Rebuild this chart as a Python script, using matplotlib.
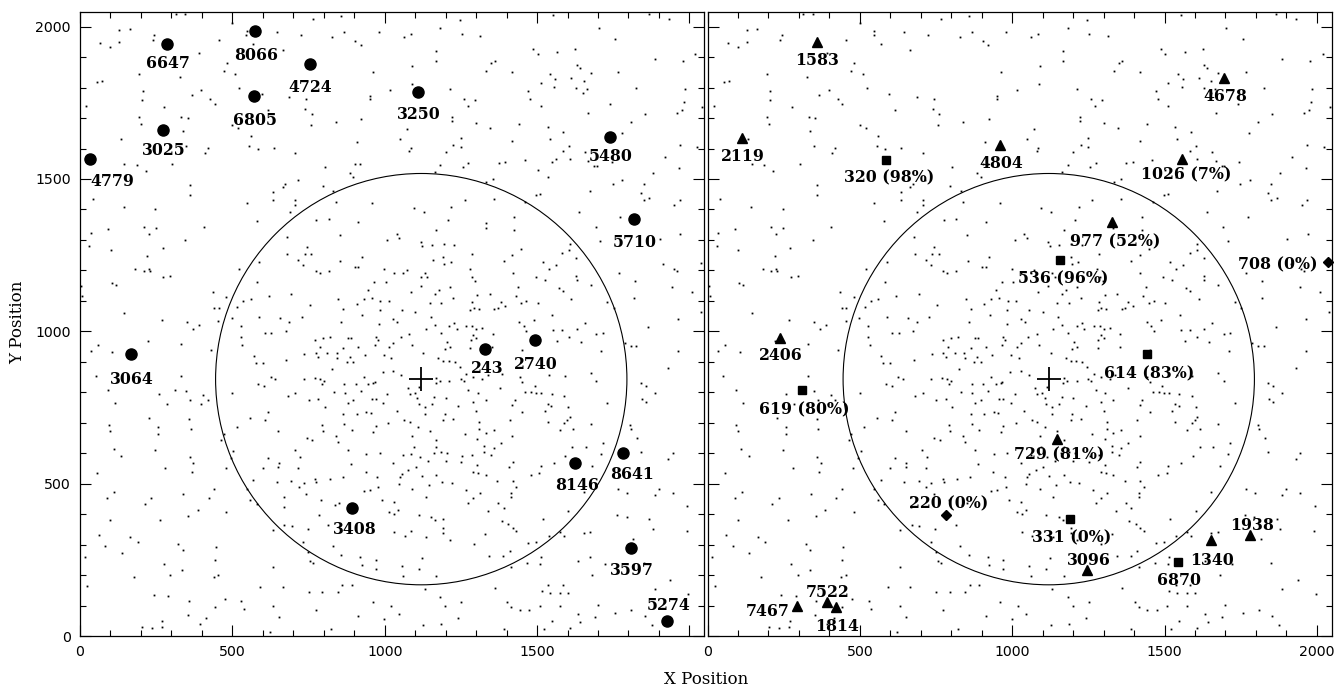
import matplotlib
matplotlib.use('Agg')
import matplotlib.pyplot as plt
from matplotlib.patches import Circle
from matplotlib.ticker import MultipleLocator, FuncFormatter

# field stars, same frame shown in both panels
field_stars = [
    (315, 2043), (345, 2041), (500, 2013), (128, 1989), (164, 1991), (66, 1947), (99, 1934), (128, 1948),
    (244, 1974), (239, 1956), (456, 1955), (547, 1985), (545, 1971), (569, 1943), (645, 1981), (725, 1974),
    (765, 2025), (828, 1967), (857, 2036), (867, 1983), (665, 1923), (391, 1912), (481, 1881), (472, 1855),
    (509, 1846), (194, 1846), (328, 1835), (55, 1819), (71, 1821), (206, 1788), (205, 1758), (366, 1776),
    (398, 1792), (427, 1763), (442, 1747), (522, 1798), (596, 1778), (687, 1769), (742, 1762), (740, 1731),
    (760, 1713), (757, 1677), (839, 1688), (20, 1741), (276, 1737), (195, 1702), (201, 1682), (332, 1703),
    (353, 1699), (500, 1677), (519, 1668), (616, 1726), (134, 1631), (338, 1657), (560, 1641), (555, 1609),
    (583, 1597), (636, 1603), (707, 1584), (349, 1609), (420, 1601), (409, 1586), (804, 1538), (145, 1549),
    (187, 1547), (215, 1526), (302, 1549), (360, 1481), (360, 1447), (548, 1421), (634, 1457), (634, 1430),
    (666, 1473), (673, 1484), (714, 1495), (797, 1477), (831, 1461), (706, 1430), (706, 1416), (688, 1390),
    (839, 1425), (42, 1433), (143, 1407), (247, 1400), (775, 1365), (817, 1369), (580, 1362),
    (1553, 2039), (1867, 2043), (1933, 2024), (904, 1954), (921, 1940), (981, 1984), (1063, 1967), (1085, 1977),
    (1183, 1997), (1246, 2021), (1253, 1977), (1313, 1970), (1702, 1996), (1756, 1960), (1167, 1920), (1168, 1888),
    (1091, 1871), (962, 1850), (1089, 1813), (1016, 1792), (951, 1772), (951, 1761), (1214, 1796), (1259, 1761),
    (1272, 1738), (1296, 1760), (1221, 1702), (1221, 1691), (1300, 1685), (923, 1698), (1073, 1664), (1050, 1631),
    (1086, 1602), (1081, 1592), (910, 1622), (904, 1549), (919, 1549), (886, 1518), (897, 1507), (1334, 1855),
    (1350, 1881), (1362, 1888), (1418, 1850), (1487, 1925), (1503, 1911), (1567, 1917), (1626, 1926), (1631, 1874),
    (1640, 1863), (1677, 1849), (1767, 1850), (1887, 1893), (1978, 1887), (2019, 1910), (1544, 1844), (1560, 1828),
    (1513, 1816), (1471, 1789), (1478, 1762), (1556, 1803), (1612, 1833), (1654, 1822), (1629, 1797), (1664, 1796),
    (1652, 1783), (1825, 1799), (1985, 1794), (1981, 1753), (1975, 1726), (1959, 1717), (2043, 1735), (1854, 1712),
    (1741, 1746), (1668, 1717), (1512, 1740), (1441, 1680), (1347, 1667), (1419, 1623), (1535, 1672), (1586, 1653),
    (1542, 1632), (1604, 1607), (1584, 1593), (1561, 1566), (1549, 1555), (1607, 1567), (1656, 1589), (1668, 1558),
    (1687, 1542), (1696, 1543), (1746, 1557), (1778, 1652), (1807, 1687), (1969, 1611), (2025, 1606), (1919, 1571),
    (1965, 1536), (1880, 1518), (1850, 1485), (1780, 1495), (1748, 1482), (1673, 1461), (1840, 1455), (1851, 1430),
    (1869, 1439), (1969, 1430), (1950, 1415), (1503, 1530), (1537, 1507), (1459, 1562), (1396, 1556), (1374, 1551),
    (1274, 1553), (1257, 1538), (1249, 1635), (1249, 1606), (1225, 1613), (1201, 1588), (1182, 1547), (1165, 1522),
    (1334, 1491), (1357, 1500), (1497, 1448), (1511, 1451), (1461, 1425), (1358, 1433), (1262, 1430), (1218, 1409),
    (1128, 1392), (1095, 1404), (959, 1422), (913, 1360), (1207, 1365), (1332, 1356), (1425, 1376), (1638, 1392),
    (1773, 1376),
    (36, 1323), (91, 1335), (31, 1281), (101, 1267), (209, 1341), (225, 1319), (248, 1338), (406, 1341),
    (345, 1299), (271, 1273), (220, 1247), (181, 1203), (210, 1199), (225, 1206), (229, 1197), (274, 1179),
    (297, 1181), (104, 1159), (118, 1153), (4, 1149), (8, 1116), (145, 1060), (268, 1037), (350, 1029),
    (370, 1008), (389, 1020), (435, 1129), (441, 1077), (455, 1077), (453, 1035), (480, 1113), (521, 1205),
    (589, 1227), (582, 1163), (516, 1081), (535, 1100), (561, 1107), (498, 1044), (619, 1116), (589, 1046),
    (528, 1017), (528, 980), (532, 954), (607, 995), (628, 993), (657, 1043), (686, 1029), (676, 1002),
    (727, 1047), (693, 1124), (678, 1311), (680, 1255), (717, 1235), (732, 1218), (737, 1255), (745, 1277),
    (759, 1255), (774, 1197), (787, 1190), (816, 1199), (853, 1315), (854, 1232), (847, 1107), (754, 1086),
    (864, 1072), (857, 1030), (821, 982), (799, 977), (772, 973), (789, 949), (773, 928), (736, 926),
    (782, 916), (811, 930), (843, 930), (845, 914), (864, 944), (878, 977), (875, 898), (677, 906),
    (570, 919), (577, 895), (600, 895), (429, 939), (330, 960), (223, 968), (58, 954), (35, 934),
    (106, 933), (51, 852), (93, 806), (115, 764), (94, 693), (99, 674), (228, 715), (256, 685),
    (256, 664), (258, 795), (285, 761), (312, 808), (330, 852), (348, 805), (362, 773), (359, 711),
    (363, 679), (405, 792), (397, 760), (420, 773), (499, 796), (514, 687), (472, 662), (464, 643),
    (585, 826), (605, 821), (626, 850), (640, 845), (557, 716), (606, 709), (617, 734), (650, 674),
    (682, 788), (706, 798), (734, 843), (770, 848), (750, 773), (782, 778), (803, 752), (787, 842),
    (800, 836), (793, 828), (827, 877), (833, 802), (867, 827), (869, 798), (879, 766), (864, 728),
    (867, 695), (794, 692), (796, 674), (744, 650), (762, 644), (840, 656), (846, 637),
    (1332, 1338), (1170, 1334), (1425, 1332), (1692, 1343), (1009, 1299), (1040, 1321), (1048, 1305), (1118, 1294),
    (1124, 1280), (1154, 1282), (1194, 1288), (1228, 1284), (924, 1245), (902, 1212), (913, 1212), (998, 1203),
    (1030, 1190), (1061, 1190), (1072, 1201), (1118, 1179), (1132, 1192), (1139, 1177), (1159, 1234), (1192, 1245),
    (1216, 1226), (1195, 1221), (1285, 1253), (1279, 1203), (1288, 1177), (1297, 1165), (1391, 1232), (1419, 1252),
    (1449, 1270), (1420, 1192), (1495, 1177), (1518, 1226), (1539, 1204), (1561, 1217), (1582, 1256), (1606, 1267),
    (1607, 1288), (1629, 1242), (1629, 1181), (1631, 1168), (1676, 1152), (1572, 1142), (1585, 1133), (1525, 1167),
    (1438, 1146), (1430, 1116), (1449, 1094), (1465, 1099), (1503, 1094), (1550, 1053), (1612, 1105), (1657, 1026),
    (1630, 1006), (1605, 982), (1567, 969), (1582, 1004), (1553, 1004), (1695, 991), (1716, 993), (1645, 966),
    (1711, 935), (1731, 1097), (1751, 1078), (1769, 1190), (1821, 1165), (1819, 1110), (1915, 1221), (1948, 1205),
    (1959, 1197), (1944, 1146), (2009, 1130), (2039, 1064), (2037, 1225), (1970, 1319), (1902, 1303), (1708, 1297),
    (1865, 1013), (1963, 1040), (1963, 936), (1807, 953), (1825, 953), (1788, 962), (1930, 879), (1840, 829),
    (1856, 820), (1886, 798), (1843, 778), (1857, 769), (1731, 764), (1676, 864), (1695, 837), (1806, 692),
    (1810, 678), (1829, 651), (1716, 634), (1676, 697), (1607, 720), (1599, 709), (1590, 700), (1618, 681),
    (1574, 676), (1535, 701), (1525, 739), (1546, 756), (1535, 763), (1603, 750), (1589, 788), (1549, 795),
    (1514, 796), (1498, 798), (1481, 802), (1462, 802), (1492, 821), (1452, 834), (1444, 851), (1540, 858),
    (1591, 853), (1452, 938), (1441, 1031), (1456, 1017), (1465, 1001), (1490, 1037), (1354, 991), (1353, 949),
    (1339, 858), (1321, 845), (1385, 860), (1379, 813), (1332, 774), (1301, 739), (1290, 769), (1305, 796),
    (1275, 807), (1311, 701), (1311, 681), (1331, 665), (1358, 676), (1381, 634), (1410, 709), (1418, 656),
    (1427, 774), (1419, 758), (1452, 734), (1285, 1097), (1293, 1078), (1281, 1070), (1308, 1072), (1359, 1072),
    (1371, 1078), (1381, 1095), (1396, 1084), (1303, 1119), (1345, 1121), (1225, 1109), (1186, 1092), (1148, 1094),
    (1165, 1122), (1177, 1137), (1214, 1144), (1119, 1149), (1085, 1128), (1014, 1098), (986, 1098), (957, 1108),
    (946, 1135), (966, 1161), (1003, 1163), (932, 1107), (908, 1091), (927, 1053), (984, 1070), (1056, 1070),
    (1100, 1064), (1151, 1046), (1028, 1039), (1041, 1031), (982, 1025), (1135, 1006), (1165, 1021), (1184, 995),
    (1212, 1018), (1228, 1026), (1236, 1008), (1268, 1017), (1287, 1019), (1301, 1008), (1321, 1012), (1290, 988),
    (1283, 971), (1301, 977), (1203, 966), (1214, 949), (1197, 941), (1281, 945), (1175, 914), (1192, 901),
    (1210, 903), (1230, 900), (1246, 884), (1089, 955), (1080, 991), (1126, 930), (1052, 980), (1028, 962),
    (1015, 949), (997, 923), (1022, 912), (971, 982), (978, 971), (968, 956), (935, 922), (913, 949),
    (889, 977), (886, 916), (897, 900), (932, 851), (946, 826), (962, 829), (968, 834), (905, 827),
    (922, 805), (897, 774), (957, 778), (971, 778), (995, 766), (1008, 794), (993, 867), (1028, 869),
    (1055, 856), (1076, 813), (1083, 794), (1098, 798), (1113, 816), (1107, 780), (1111, 760), (1132, 752),
    (1154, 763), (1170, 846), (1168, 829), (1162, 785), (1181, 837), (1201, 780), (1212, 836), (1241, 756),
    (1249, 845), (1260, 838), (1268, 860), (1290, 851), (1192, 709), (1225, 711), (1197, 730), (1108, 687),
    (1148, 674), (1170, 643), (1132, 728), (1091, 656), (1064, 709), (1083, 703), (1039, 739), (1011, 698),
    (962, 668), (971, 689), (940, 736), (955, 733), (908, 727), (892, 676), (1263, 662), (1303, 648),
    (110, 613), (136, 592), (247, 609), (360, 586), (371, 568), (366, 537), (280, 553), (56, 535),
    (113, 471), (89, 452), (100, 382), (234, 454), (212, 432), (264, 380), (339, 466), (356, 394),
    (386, 414), (422, 452), (441, 483), (480, 407), (479, 552), (495, 585), (503, 607), (62, 331),
    (83, 297), (137, 274), (165, 326), (190, 310), (16, 260), (24, 164), (176, 194), (242, 136),
    (290, 131), (275, 235), (297, 199), (322, 302), (338, 282), (336, 215), (357, 114), (354, 68),
    (393, 40), (415, 59), (443, 96), (475, 122), (439, 193), (454, 200), (443, 248), (446, 292),
    (203, 31), (235, 25), (269, 29), (270, 49), (529, 114), (537, 88), (592, 162), (623, 14),
    (633, 99), (652, 64), (666, 162), (632, 226), (632, 347), (670, 363), (695, 361), (668, 422),
    (669, 455), (646, 504), (652, 569), (650, 555), (616, 585), (599, 553), (569, 512), (547, 481),
    (558, 446), (580, 432), (694, 508), (718, 490), (735, 503), (717, 553), (721, 589), (705, 611),
    (742, 465), (772, 516), (775, 505), (792, 445), (784, 398), (820, 515), (836, 430), (851, 438),
    (862, 522), (879, 610), (747, 352), (814, 363), (829, 294), (733, 310), (749, 276), (756, 247),
    (765, 238), (858, 267), (861, 169), (846, 145), (795, 145), (751, 144), (774, 86), (823, 24),
    (940, 596), (984, 599), (1061, 595), (1087, 597), (1096, 619), (1115, 586), (1170, 621), (1161, 601),
    (1186, 605), (1205, 601), (1142, 575), (1028, 569), (938, 538), (888, 563), (975, 523), (979, 488),
    (951, 479), (932, 477), (1050, 523), (1056, 531), (1078, 545), (1102, 555), (1121, 525), (1091, 484),
    (1046, 500), (1144, 494), (1170, 528), (1189, 506), (1220, 501), (1201, 575), (1255, 590), (1285, 594),
    (1251, 571), (1327, 623), (1326, 605), (1350, 594), (1358, 616), (1303, 561), (1290, 538), (1307, 534),
    (1331, 528), (1408, 555), (1421, 572), (1421, 510), (1432, 490), (1415, 470), (1415, 457), (1369, 510),
    (1373, 438), (1391, 419), (1340, 410), (1312, 468), (1290, 454), (1274, 435), (1266, 479), (1135, 457),
    (1111, 397), (1152, 391), (1166, 380), (1192, 384), (1192, 353), (1193, 339), (1135, 324), (1086, 345),
    (1066, 329), (1031, 341), (1029, 439), (1031, 402), (1045, 415), (1015, 408), (990, 446), (1214, 315),
    (1292, 301), (1328, 336), (1343, 262), (1389, 262), (1410, 279), (1416, 227), (1385, 378), (1406, 369),
    (1421, 353), (1432, 344), (1471, 304), (1498, 309), (1468, 238), (1514, 260), (1510, 236), (1518, 384),
    (1539, 328), (1574, 342), (1587, 328), (1602, 411), (1654, 337), (1675, 341), (1633, 247), (1675, 260),
    (1681, 200), (1700, 101), (1513, 559), (1507, 534), (1479, 530), (1555, 569), (1592, 590), (1616, 619),
    (1660, 619), (1681, 559), (1709, 597), (1654, 471), (1767, 484), (1796, 470), (1763, 397), (1795, 391),
    (1815, 317), (1840, 603), (1946, 599), (1931, 580), (1900, 481), (1886, 462), (1946, 470), (1993, 426),
    (1869, 384), (1880, 350), (1991, 345), (1850, 240), (1722, 235), (1938, 184), (1886, 153), (1997, 138),
    (1854, 66), (1876, 36), (1809, 85), (1757, 74), (1689, 61), (1634, 72), (1642, 47), (1607, 25),
    (1549, 49), (1574, 98), (1522, 22), (1509, 97), (1391, 22), (1443, 85), (1474, 85), (1402, 110),
    (1416, 94), (1361, 156), (1516, 148), (1536, 167), (1542, 140), (1574, 140), (1585, 167), (1601, 140),
    (1252, 112), (1242, 58), (1198, 99), (1185, 39), (1182, 129), (1126, 35), (1132, 153), (1046, 71),
    (998, 55), (1020, 98), (960, 110), (913, 66), (892, 169), (1170, 197), (1056, 229), (1061, 197),
    (1111, 220), (1124, 255), (971, 249), (971, 219), (919, 258), (924, 234),
]

# cluster centre and radius
centre_x, centre_y = 1120, 843
radius = 675

# left panel: candidates
left_ids = ['6647', '8066', '4724', '6805', '3025', '4779', '3250', '5480', '5710',
            '3064', '243', '2740', '8146', '8641', '3408', '3597', '5274']
left_x = [287, 574, 754, 571, 273, 33, 1108, 1740, 1818, 169, 1328, 1494, 1625, 1783, 894, 1809, 1928]
left_y = [1944, 1986, 1877, 1772, 1662, 1565, 1784, 1637, 1369, 926, 941, 971, 567, 601, 420, 289, 48]

# right panel: triangles, squares, diamonds
tri_ids = ['1583', '2119', '4804', '4678', '1026 (7%)', '977 (52%)', '2406', '729 (81%)',
           '3096', '1340', '1938', '7467', '7522', '1814']
tri_x = [358, 112, 960, 1696, 1558, 1329, 238, 1148, 1247, 1653, 1781, 293, 391, 422]
tri_y = [1949, 1634, 1610, 1832, 1567, 1358, 979, 647, 217, 315, 332, 98, 111, 95]

sq_ids = ['320 (98%)', '536 (96%)', '614 (83%)', '619 (80%)', '331 (0%)', '6870']
sq_x = [587, 1156, 1441, 311, 1189, 1544]
sq_y = [1562, 1233, 925, 807, 383, 242]

dia_ids = ['708 (0%)', '220 (0%)']
dia_x = [2037, 782]
dia_y = [1226, 397]

# label offsets (points) and horizontal alignment
left_off = [(0.7, -12.5), (0.7, -16.6), (0, -15.1), (0.7, -15.8), (0.7, -13.9), (16.3, -14.9),
            (0.7, -14.2), (0.7, -12.7), (0.5, -15.6), (0.5, -16.8), (1.9, -12.5), (0.5, -15.8),
            (1.2, -14.9), (6.0, -13.9), (1.4, -13.7), (0.5, -15.1), (0.5, 13.2)]
tri_off = [(0.7, -11.5), (0.7, -12.0), (0.7, -11.5), (0.7, -12.0), (3.1, -10.6), (1.7, -12.7),
           (0.9, -11.5), (1.7, -10.3), (0.7, 8.1), (0.9, -13.0), (1.2, 8.1), (-5.0, -2.2),
           (0.7, 8.1), (0.9, -12.5)]
tri_ha = ['center'] * 11 + ['right', 'center', 'center']
sq_off = [(1.7, -11.1), (2.2, -11.8), (1.9, -12.5), (1.7, -12.5), (1.4, -12.0), (0.5, -11.5)]
dia_off = [(-7.7, 0), (1.7, 9.4)]
dia_ha = ['right', 'center']

label_font = dict(family='DejaVu Serif', fontweight='bold', fontsize=11.3, va='center_baseline')

fig = plt.figure(figsize=(13.36, 6.85), dpi=100)
ax1 = fig.add_axes([80 / 1336, 49 / 685, 624 / 1336, 624 / 685])
ax2 = fig.add_axes([707.5 / 1336, 49 / 685, 624 / 1336, 624 / 685])

sx = [p[0] for p in field_stars]
sy = [p[1] for p in field_stars]

for ax in (ax1, ax2):
    ax.plot(sx, sy, 's', ms=1.3, mew=0, color='k', zorder=1)
    ax.add_patch(Circle((centre_x, centre_y), radius, fill=False, lw=0.8, color='k', zorder=2))
    ax.plot(centre_x, centre_y, marker='+', ms=17, mew=1.3, color='k', zorder=3)
    ax.set_xlim(0, 2048)
    ax.set_ylim(0, 2048)
    ax.xaxis.set_major_locator(MultipleLocator(500))
    ax.xaxis.set_minor_locator(MultipleLocator(100))
    ax.yaxis.set_major_locator(MultipleLocator(500))
    ax.yaxis.set_minor_locator(MultipleLocator(100))
    ax.tick_params(which='both', direction='in', top=True, right=True, width=0.8)
    ax.tick_params(which='major', length=8, labelsize=10.2, pad=6.5)
    ax.tick_params(which='minor', length=4)
    for s in ax.spines.values():
        s.set_linewidth(0.9)

ax1.xaxis.set_major_formatter(FuncFormatter(lambda v, p: '' if v >= 2000 else '%d' % v))
ax1.yaxis.set_major_formatter(FuncFormatter(lambda v, p: '%d' % v))
ax2.xaxis.set_major_formatter(FuncFormatter(lambda v, p: '%d' % v))
ax2.tick_params(labelleft=False)

# left panel
ax1.plot(left_x, left_y, 'o', ms=8, color='k', zorder=4)
for name, x, y, off in zip(left_ids, left_x, left_y, left_off):
    ax1.annotate(name, (x, y), xytext=off, textcoords='offset points', ha='center', **label_font)

# right panel
ax2.plot(tri_x, tri_y, '^', ms=6.5, color='k', zorder=4)
ax2.plot(sq_x, sq_y, 's', ms=6.3, color='k', zorder=4)
ax2.plot(dia_x, dia_y, 'D', ms=4.8, color='k', zorder=4, clip_on=False)
for name, x, y, off, ha in zip(tri_ids, tri_x, tri_y, tri_off, tri_ha):
    ax2.annotate(name, (x, y), xytext=off, textcoords='offset points', ha=ha, **label_font)
for name, x, y, off in zip(sq_ids, sq_x, sq_y, sq_off):
    ax2.annotate(name, (x, y), xytext=off, textcoords='offset points', ha='center', **label_font)
for name, x, y, off, ha in zip(dia_ids, dia_x, dia_y, dia_off, dia_ha):
    ax2.annotate(name, (x, y), xytext=off, textcoords='offset points', ha=ha, **label_font)

fig.text(706 / 1336, 1 - 679 / 685, 'X Position', ha='center', va='center', family='DejaVu Serif', fontsize=12)
fig.text(18 / 1336, 1 - 322 / 685, 'Y Position', ha='center', va='center', rotation=90,
         family='DejaVu Serif', fontsize=12)

fig.savefig('out.png', dpi=100)
